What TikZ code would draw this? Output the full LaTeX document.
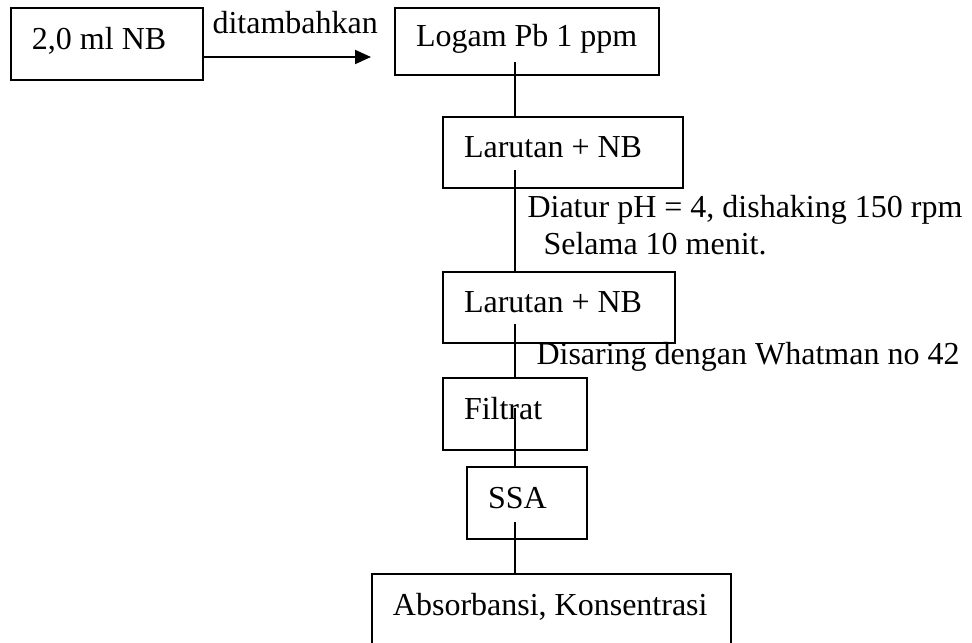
\documentclass[tikz,border=0pt]{standalone}
\usepackage{fontspec}
\setmainfont{Liberation Serif}
\usetikzlibrary{calc}
\usetikzlibrary{arrows.meta}

\tikzset{
    procbox/.style={draw, line width=0.75pt, inner xsep=7.875pt, inner ysep=0pt,
        text width=#1, text height=9pt, text depth=5pt, align=flush left,
        font=\fontsize{12}{14}\selectfont},
    note/.style={inner sep=0pt, anchor=base west, font=\fontsize{12}{14}\selectfont},
    link/.style={line width=0.75pt},
}

\begin{document}
\begin{tikzpicture}[x=0.375pt, y=-0.375pt]
    \useasboundingbox (0,0) rectangle (972,643);

    % boxes
    \node[procbox=56.25pt, minimum height=27pt] (nb) at (107,44) {2,0 ml NB};
    \node[procbox=83.25pt, minimum height=25.1pt] (pb) at (527,41.5) {Logam Pb 1 ppm};
    \node[procbox=74.25pt, minimum height=26.6pt] (mix1) at (563,152.5) {Larutan + NB};
    \node[procbox=71.25pt, minimum height=26.6pt] (mix2) at (559,307.5) {Larutan + NB};
    \node[procbox=38.25pt, minimum height=27pt] (filt) at (515,414) {Filtrat};
    \node[procbox=29.25pt, minimum height=27pt] (ssa) at (527,503) {SSA};
    \node[procbox=118.9pt, minimum height=27pt] (abs) at (551.5,610) {Absorbansi, Konsentrasi};

    % arrow NB -> Pb
    \coordinate (a0) at ($(nb.east)+(0,13)$);
    \coordinate (a1) at (371,57);
    \draw[link, -{Triangle[length=6pt,width=5.25pt]}] (a0) -- (a1);
    \node[note] (add) at (212,34) {ditambahkan};

    % vertical connectors
    \coordinate (s1) at (515,62);
    \coordinate (s2) at (515,170);
    \coordinate (s3) at (515,324);
    \coordinate (s4) at (515,408);
    \coordinate (s5) at (515,522);
    \draw[link] (s1) -- (s1 |- mix1.north);
    \draw[link] (s2) -- (s2 |- mix2.north);
    \draw[link] (s3) -- (s3 |- filt.north);
    \draw[link] (s4) -- (s4 |- ssa.north);
    \draw[link] (s5) -- (s5 |- abs.north);

    % step notes
    \node[note] (shake) at (527,218) {Diatur pH = 4, dishaking 150 rpm};
    \node[note] (time) at (543,255) {Selama 10 menit.};
    \node[note] (sieve) at (536,365) {Disaring dengan Whatman no 42};
\end{tikzpicture}
\end{document}
